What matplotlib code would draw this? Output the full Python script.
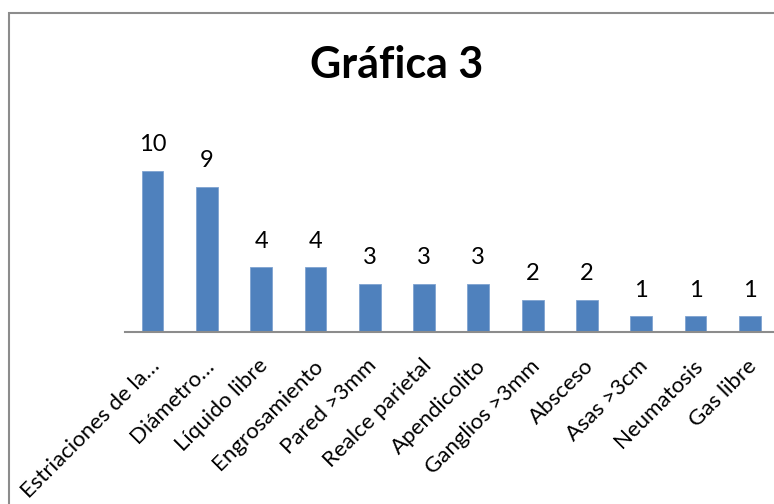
import matplotlib.pyplot as plt
from matplotlib.patches import Rectangle
from matplotlib.transforms import ScaledTranslation

categorias = ["Estriaciones de la…", "Diámetro…", "Líquido libre", "Engrosamiento",
              "Pared >3mm", "Realce parietal", "Apendicolito", "Ganglios >3mm",
              "Absceso", "Asas >3cm", "Neumatosis", "Gas libre"]
valores = [10, 9, 4, 4, 3, 3, 3, 2, 2, 1, 1, 1]

plt.rcParams['font.family'] = ['Lato', 'DejaVu Sans']

fig = plt.figure(figsize=(7.74, 5.04), dpi=100)
# marco del grafico (como en Excel)
fig.patches.append(Rectangle((9/774, -0.1), 1.2, 1 - 13/504 + 0.1, transform=fig.transFigure,
                             fill=False, edgecolor='#8c8c8c', linewidth=1.5))

ax = fig.add_axes([125.4/774, 172/504, 651.6/774, 232/504])
x = range(len(valores))
ax.bar(x, valores, width=0.4, color='#4F81BD', edgecolor='#7FA3D0', linewidth=0.6)
for i, v in enumerate(valores):
    ax.text(i, v + 0.95, str(v), ha='center', va='bottom', fontsize=17)

ax.set_xlim(-0.5, len(valores) - 0.5)
ax.set_ylim(0, 14.38)
ax.set_yticks([])
for s in ['top', 'right', 'left']:
    ax.spines[s].set_visible(False)
ax.spines['bottom'].set_color('#8c8c8c')
ax.spines['bottom'].set_linewidth(1.5)
ax.set_xticks(list(x))
ax.set_xticklabels(categorias, rotation=45, ha='right', va='top', fontsize=16)
ax.tick_params(axis='x', length=0, pad=17)
off = ScaledTranslation(0.11, 0, fig.dpi_scale_trans)
for lab in ax.get_xticklabels():
    lab.set_transform(lab.get_transform() + off)

fig.text(397/774, 1 - 65/504, "Gráfica 3", ha='center', va='center',
         fontsize=31, fontweight='bold')

fig.savefig('out.png', dpi=100)
